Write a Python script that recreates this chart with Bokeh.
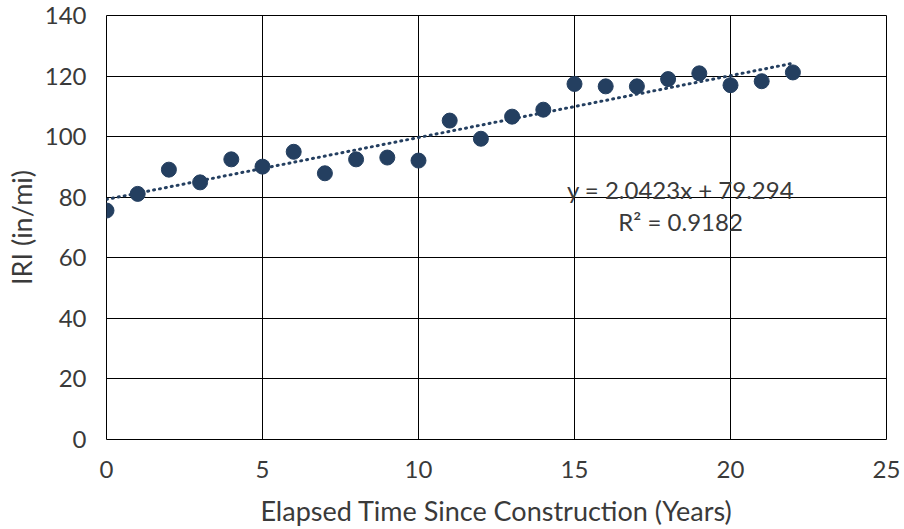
from bokeh.plotting import figure
from bokeh.models import Range1d, FixedTicker, ColumnDataSource
from bokeh.core.properties import value
from bokeh.embed import file_html
from bokeh.resources import INLINE

# Observed roughness per year since construction
years = [0, 1, 2, 3, 4, 5, 6, 7, 8, 9, 10, 11, 12, 13, 14, 15, 16, 17, 18, 19, 20, 21, 22]
iri = [75.6, 81.1, 89.1, 84.9, 92.5, 90.1, 95.0, 87.9, 92.5, 93.1, 92.1, 105.3,
       99.3, 106.6, 108.9, 117.4, 116.6, 116.6, 119.0, 120.9, 117.0, 118.3, 121.2]

# Linear trend
slope = 2.0423
intercept = 79.294
r_squared = 0.9182

x_ticks = [0, 5, 10, 15, 20, 25]
y_ticks = [0, 20, 40, 60, 80, 100, 120, 140]

FONT = "Lato"
TEXT = "#3a3a3a"
MARK = "#243f60"

p = figure(width=904, height=529, output_backend="svg", toolbar_location=None,
           x_range=Range1d(0, 25), y_range=Range1d(0, 140),
           min_border_left=106, min_border_right=18, min_border_top=15, min_border_bottom=90)

p.outline_line_color = "black"
p.outline_line_width = 1

for ax in (p.xaxis[0], p.yaxis[0]):
    ax.major_tick_out = 0
    ax.major_tick_in = 0
    ax.minor_tick_out = 0
    ax.minor_tick_in = 0
    ax.axis_line_color = None
    ax.major_label_text_font = FONT
    ax.major_label_text_font_size = "24px"
    ax.major_label_text_color = TEXT
    ax.axis_label_text_font = FONT
    ax.axis_label_text_font_size = "27px"
    ax.axis_label_text_font_style = "normal"
    ax.axis_label_text_color = TEXT

p.xaxis.ticker = FixedTicker(ticks=x_ticks)
p.yaxis.ticker = FixedTicker(ticks=y_ticks)
p.xaxis.major_label_standoff = 21
p.yaxis.major_label_standoff = 20
p.xaxis.axis_label = "Elapsed Time Since Construction (Years)"
p.yaxis.axis_label = "IRI (in/mi)"
p.xaxis.axis_label_standoff = 13
p.yaxis.axis_label_standoff = 4

p.xgrid.grid_line_color = "black"
p.ygrid.grid_line_color = "black"
p.xgrid.grid_line_width = 1
p.ygrid.grid_line_width = 1

# trend line across the data span
tx = [years[0], years[-1]]
ty = [intercept + slope * x for x in tx]
p.line(tx, ty, line_color=MARK, line_width=3, line_dash="1 5", line_cap="round")

src = ColumnDataSource(dict(x=years, y=iri))
p.scatter("x", "y", source=src, size=15, fill_color=MARK, line_color=MARK)

eq_text = f"y = {slope}x + {intercept}"
r2_text = f"R\u00b2 = {r_squared}"
p.text(x=[18.4], y=[82.4], text=[eq_text], text_font=value(FONT), text_font_size="24px",
       text_color=TEXT, text_align="center", text_baseline="middle")
p.text(x=[18.4], y=[72.0], text=[r2_text], text_font=value(FONT), text_font_size="24px",
       text_color=TEXT, text_align="center", text_baseline="middle")

open("out.html", "w").write(file_html(p, INLINE))
